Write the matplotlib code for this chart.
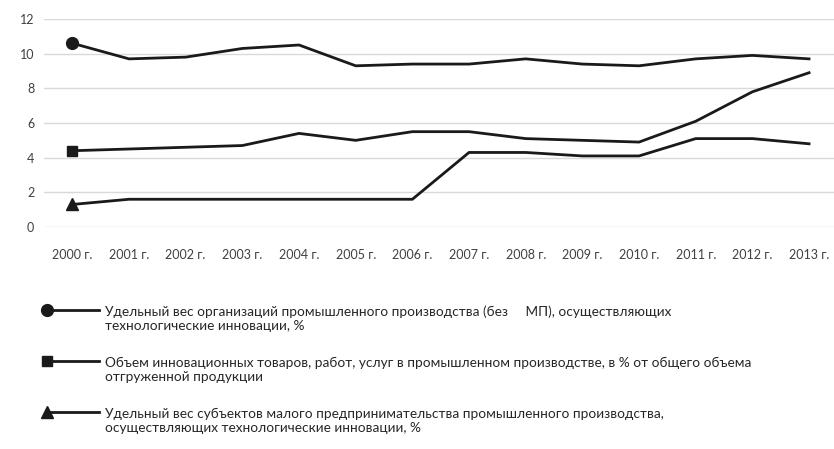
import numpy as np
import matplotlib
matplotlib.use("Agg")
import matplotlib.pyplot as plt
from matplotlib.legend_handler import HandlerLine2DCompound

plt.rcParams['font.family'] = ['Lato', 'DejaVu Sans']

years = [f"{y} г." for y in range(2000, 2014)]
share_orgs = [10.6, 9.7, 9.8, 10.3, 10.5, 9.3, 9.4, 9.4, 9.7, 9.4, 9.3, 9.7, 9.9, 9.7]
volume_goods = [4.4, 4.5, 4.6, 4.7, 5.4, 5.0, 5.5, 5.5, 5.1, 5.0, 4.9, 6.1, 7.8, 8.9]
share_small = [1.3, 1.6, 1.6, 1.6, 1.6, 1.6, 1.6, 4.3, 4.3, 4.1, 4.1, 5.1, 5.1, 4.8]
labels = [
    "Удельный вес организаций промышленного производства (без     МП), осуществляющих\nтехнологические инновации, %",
    "Объем инновационных товаров, работ, услуг в промышленном производстве, в % от общего объема\nотгруженной продукции",
    "Удельный вес субъектов малого предпринимательства промышленного производства,\nосуществляющих технологические инновации, %",
]


class LeftMarker(HandlerLine2DCompound):
    # excel-style legend: marker at the left end, handle level with the first text line
    def get_xdata(self, legend, xdescent, ydescent, width, height, fontsize):
        return [-xdescent + 0.35 * fontsize, -xdescent + width], [-xdescent + 0.35 * fontsize]

    def create_artists(self, legend, orig_handle, xdescent, ydescent, width, height, fontsize, trans):
        arts = super().create_artists(legend, orig_handle, xdescent, ydescent, width, height, fontsize, trans)
        for a in arts:
            a.set_ydata(np.asarray(a.get_ydata()) + 0.68 * fontsize)
        return arts


fig = plt.figure(figsize=(8.34, 4.49), dpi=100)
ax = fig.add_axes([44 / 834, 1 - 227 / 449, 1 - 44 / 834, 208 / 449])
x = np.arange(len(years))
col = "#1a1a1a"
lines = []
for vals, mk, ms, lab in zip([share_orgs, volume_goods, share_small], ["o", "s", "^"], [8.5, 7.5, 8.5], labels):
    ln, = ax.plot(x, vals, color=col, lw=2.0, marker=mk, ms=ms, markevery=[0], label=lab,
                  solid_joinstyle="miter", clip_on=False)
    lines.append(ln)

ax.set_ylim(0, 12)
ax.set_yticks(range(0, 13, 2))
ax.set_xlim(-0.5, 13.44)
ax.set_xticks(x)
ax.set_xticklabels(years)
ax.grid(axis="y", color="#d9d9d9", lw=1)
ax.set_axisbelow(True)
for s in ax.spines.values():
    s.set_visible(False)
ax.tick_params(length=0, labelsize=9, colors="#404040")
ax.tick_params(axis="x", pad=16)
ax.tick_params(axis="y", pad=7)

leg = fig.legend(handles=lines, loc="upper left", bbox_to_anchor=(42 / 834, 1 - 305 / 449),
                 frameon=False, fontsize=9.8, handlelength=4.2, handletextpad=0.4,
                 labelspacing=1.8, borderaxespad=0, borderpad=0, labelcolor="#262626",
                 handler_map={l: LeftMarker() for l in lines})
for t in leg.get_texts():
    t.set_linespacing(1.25)

fig.savefig("out.png", dpi=100)
